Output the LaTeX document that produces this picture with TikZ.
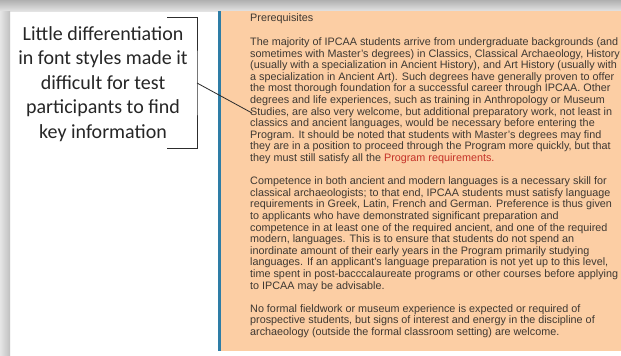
\documentclass[tikz,border=0pt]{standalone}
\usepackage{fontspec}
\setmainfont{Liberation Sans}
\newfontfamily\calloutfont{Carlito}
\definecolor{panel}{RGB}{252,206,164}
\definecolor{bluebar}{RGB}{46,125,166}
\definecolor{bodytext}{RGB}{62,56,50}
\definecolor{linkred}{RGB}{196,50,40}
\definecolor{inkline}{RGB}{45,45,45}
\tikzset{
  body/.style={anchor=base west, inner sep=0pt, align=left, text=bodytext,
    font=\fontsize{10.8}{11.6}\selectfont},
  callout/.style={anchor=base, inner sep=0pt, align=center, text=black!85,
    font=\calloutfont\fontsize{20}{24.5}\selectfont},
  bracketline/.style={draw=inkline, line width=0.8pt},
}
\begin{document}
\begin{tikzpicture}[x=1pt,y=-1pt]
\useasboundingbox (0,0) rectangle (621,356);
\fill[white] (0,0) rectangle (621,356);
% window shadow
\shade[top color=gray!62, bottom color=gray!22] (0,0) rectangle (621,11);
\shade[left color=gray!20, right color=gray!50] (0,11) rectangle (10,356);
% panel
\fill[panel] (221,11) rectangle (621,351);
\fill[bluebar] (218,11) rectangle (221,351);
% panel text (anchored at the baseline of each last line)
\node[body] (head) at (250,21.5) {Prerequisites};
\node[body] (p1) at (250,161.5) {The majority of IPCAA students arrive from undergraduate backgrounds (and\\
sometimes with Master's degrees) in Classics, Classical Archaeology, History\\
(usually with a specialization in Ancient History), and Art History (usually with\\
a specialization in Ancient Art). Such degrees have generally proven to offer\\
the most thorough foundation for a successful career through IPCAA. Other\\
degrees and life experiences, such as training in Anthropology or Museum\\
Studies, are also very welcome, but additional preparatory work, not least in\\
classics and ancient languages, would be necessary before entering the\\
Program. It should be noted that students with Master's degrees may find\\
they are in a position to proceed through the Program more quickly, but that\\
they must still satisfy all the {\color{linkred}Program requirements.}};
\node[body] (p2) at (250,289.1) {Competence in both ancient and modern languages is a necessary skill for\\
classical archaeologists; to that end, IPCAA students must satisfy language\\
requirements in Greek, Latin, French and German. Preference is thus given\\
to applicants who have demonstrated significant preparation and\\
competence in at least one of the required ancient, and one of the required\\
modern, languages. This is to ensure that students do not spend an\\
inordinate amount of their early years in the Program primarily studying\\
languages. If an applicant's language preparation is not yet up to this level,\\
time spent in post-bacccalaureate programs or other courses before applying\\
to IPCAA may be advisable.};
\node[body] (p3) at (250,335.5) {No formal fieldwork or museum experience is expected or required of\\
prospective students, but signs of interest and energy in the discipline of\\
archaeology (outside the formal classroom setting) are welcome.};
% callout
\node[callout] (note) at (103,138) {Little differentiation\\in font styles made it\\difficult for test\\participants to find\\key information};
\coordinate (brTop) at (167,17);
\coordinate (brBot) at (167,148);
\coordinate (brMid) at (197,83);
\coordinate (leadEnd) at (252,113);
\draw[bracketline] (brTop) -| (brMid) |- (brBot);
\draw[bracketline] (brMid) -- (leadEnd);
\end{tikzpicture}
\end{document}
